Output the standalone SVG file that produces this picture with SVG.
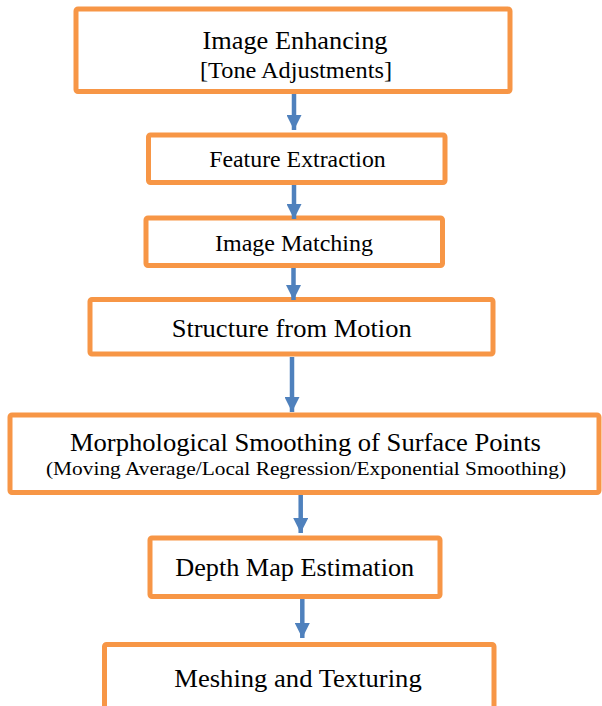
<svg xmlns="http://www.w3.org/2000/svg" width="602" height="706" viewBox="0 0 602 706">
  <style>
    .box { fill: #ffffff; stroke: #F79646; stroke-width: 5; }
    .lbl { font-family: "Times New Roman", "Liberation Serif", Tinos, "Nimbus Roman", Times, serif; fill: #000000; text-anchor: middle; }
    .conn { stroke: #4F81BD; stroke-width: 4.5; fill: none; marker-end: url(#head); }
  </style>
  <defs>
    <marker id="head" viewBox="0 0 15 15" markerWidth="15" markerHeight="15" markerUnits="userSpaceOnUse" refX="15" refY="7.5" orient="auto">
      <path d="M0,0 L15,7.5 L0,15 z" fill="#4F81BD"/>
    </marker>
  </defs>
  <rect x="0" y="0" width="602" height="706" fill="#ffffff"/>

  <!-- pipeline steps -->
  <g id="image-enhancing">
    <rect class="box" x="76" y="9" width="434" height="82.5" rx="2"/>
    <text class="lbl" x="295" y="49" font-size="24.5" textLength="185" lengthAdjust="spacingAndGlyphs">Image Enhancing</text>
    <text class="lbl" x="296" y="77.5" font-size="23.5" textLength="192" lengthAdjust="spacingAndGlyphs">[Tone Adjustments]</text>
  </g>
  <g id="feature-extraction">
    <rect class="box" x="148.5" y="135" width="296.5" height="47.5" rx="2"/>
    <text class="lbl" x="297.5" y="167.3" font-size="22.5" textLength="176.5" lengthAdjust="spacingAndGlyphs">Feature Extraction</text>
  </g>
  <g id="image-matching">
    <rect class="box" x="146" y="218" width="296.5" height="47.5" rx="2"/>
    <text class="lbl" x="294" y="250.7" font-size="22.5" textLength="158" lengthAdjust="spacingAndGlyphs">Image Matching</text>
  </g>
  <g id="structure-from-motion">
    <rect class="box" x="90" y="299.5" width="403" height="54.5" rx="2"/>
    <text class="lbl" x="291.7" y="336.7" font-size="25" textLength="240" lengthAdjust="spacingAndGlyphs">Structure from Motion</text>
  </g>
  <g id="morphological-smoothing">
    <rect class="box" x="10" y="415" width="589" height="77.5" rx="2"/>
    <text class="lbl" x="305.4" y="451" font-size="25" textLength="471" lengthAdjust="spacingAndGlyphs">Morphological Smoothing of Surface Points</text>
    <text class="lbl" x="306" y="475" font-size="19.5" textLength="520" lengthAdjust="spacingAndGlyphs">(Moving Average/Local Regression/Exponential Smoothing)</text>
  </g>
  <g id="depth-map-estimation">
    <rect class="box" x="150" y="538" width="290" height="58.5" rx="2"/>
    <text class="lbl" x="294.7" y="576" font-size="24.5" textLength="239" lengthAdjust="spacingAndGlyphs">Depth Map Estimation</text>
  </g>
  <g id="meshing-texturing">
    <rect class="box" x="104.5" y="644.5" width="389.5" height="80" rx="2"/>
    <text class="lbl" x="298" y="686.7" font-size="25" textLength="247.4" lengthAdjust="spacingAndGlyphs">Meshing and Texturing</text>
  </g>

  <!-- connectors -->
  <g id="connectors">
    <line class="conn" x1="294" y1="94" x2="294" y2="130"/>
    <line class="conn" x1="294" y1="185" x2="294" y2="219"/>
    <line class="conn" x1="293.5" y1="268" x2="293.5" y2="300"/>
    <line class="conn" x1="292" y1="357" x2="292" y2="412"/>
    <line class="conn" x1="300.7" y1="495" x2="300.7" y2="533"/>
    <line class="conn" x1="302.3" y1="599" x2="302.3" y2="638"/>
  </g>
</svg>
